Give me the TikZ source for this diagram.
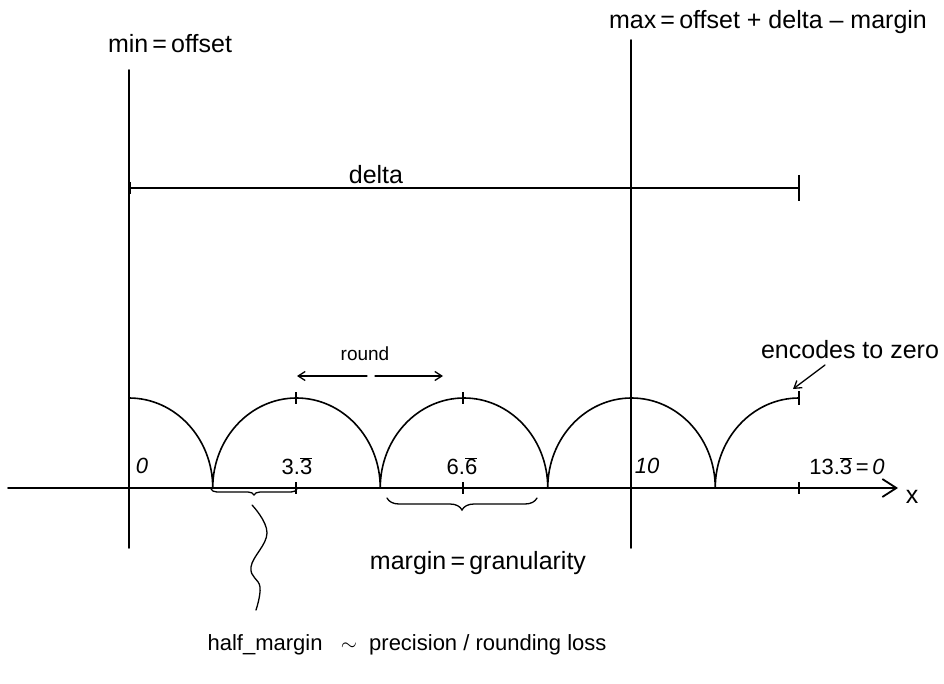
\documentclass[tikz,border=0pt]{standalone}
\usepackage{fontspec}
\setmainfont{Liberation Sans}
\usetikzlibrary{arrows.meta,decorations.pathreplacing}
\newcommand{\ovl}[1]{\ensuremath{\overline{\mbox{#1}}}}
\begin{document}
\begin{tikzpicture}[x=1pt,y=1pt,
  ln/.style={line width=1.6pt,black,line cap=round},
  thin/.style={line width=1.3pt,black,line cap=round},
  lbl/.style={font=\fontsize{19}{21}\selectfont,inner sep=0pt},
  big/.style={font=\fontsize{25}{27}\selectfont,inner sep=0pt},
  num/.style={font=\fontsize{22}{24}\selectfont,inner sep=0pt},
  tk/.style={line width=1.2pt}]
\useasboundingbox (0,0) rectangle (944,-684);
% coordinates
\coordinate (axL) at (8,-488);
\coordinate (axR) at (898,-488);
\coordinate (vLt) at (129,-70);
\coordinate (vLb) at (129,-548);
\coordinate (vRt) at (631,-40);
\coordinate (vRb) at (631,-548);
\coordinate (dL) at (129,-188);
\coordinate (dR) at (799,-188);
% axis
\draw[ln,-{Straight Barb[length=14pt,width=18pt,line width=1.8pt]}] (axL) -- (axR);
\node[big] (xlbl) at (912,-497) {x};
% verticals
\draw[ln] (vLt) -- (vLb);
\draw[ln] (vRt) -- (vRb);
% delta
\draw[ln] (dL) -- (dR);
\draw[tk] (799,-175) -- (799,-201);
\draw[line width=2.4pt] (130,-182) -- (130,-194);
\node[big] (delta) at (376,-175) {delta};
% arcs
\coordinate (a0) at (129,-398);
\draw[ln] (a0) arc[start angle=90,end angle=0,x radius=83.75,y radius=90]
  coordinate (a1)
  arc[start angle=180,end angle=0,x radius=83.75,y radius=90] coordinate (a2)
  arc[start angle=180,end angle=0,x radius=83.75,y radius=90] coordinate (a3)
  arc[start angle=180,end angle=0,x radius=83.75,y radius=90] coordinate (a4)
  arc[start angle=180,end angle=90,x radius=83.75,y radius=90] coordinate (a5);
% ticks on arcs
\foreach \xx in {296,463}{\draw[tk] (\xx,-392) -- (\xx,-404);}
\draw[tk] (799,-391) -- (799,-405);
% ticks on axis
\foreach \xx in {296,463,799}{\draw[tk] (\xx,-482) -- (\xx,-494);}
% numbers
\node[num] (n0) at (142,-466) {\itshape 0};
\node[num] (n1) at (297,-466) {3.\ovl{3}};
\node[num] (n2) at (462,-466) {6.\ovl{6}};
\node[num] (n3) at (647,-466) {\itshape 10};
\node[num] (n4) at (847,-466) {13.\ovl{3}\,=\,\textit{0}};
% round
\node[lbl] (round) at (365,-354) {round};
\coordinate (rL) at (297,-376);
\coordinate (rM1) at (367,-376);
\coordinate (rM2) at (375,-376);
\coordinate (rR) at (443,-376);
\draw[thin,-{Straight Barb[length=7pt,width=9pt]}] (rM1) -- (rL);
\draw[thin,-{Straight Barb[length=7pt,width=9pt]}] (rM2) -- (rR);
% encodes to zero
\node[big] (enc) at (850,-350) {encodes to zero};
\coordinate (eS) at (825,-365);
\coordinate (eE) at (793,-389);
\draw[thin,-{Straight Barb[length=7pt,width=9pt]}] (eS) -- (eE);
% braces
\draw[thin,decorate,decoration={brace,mirror,amplitude=6pt}] (211,-489) -- (297,-489);
\draw[thin,decorate,decoration={brace,mirror,amplitude=12pt}] (387,-498) -- (537,-498);
% squiggle
\draw[thin] plot[smooth,tension=0.7] coordinates {(252,-505) (267,-533) (251,-567) (260,-587) (256,-610)};
% labels
\node[big] (margin) at (478,-563) {margin\,=\,granularity};
\node[font=\fontsize{22}{24}\selectfont,inner sep=0pt] (half) at (407,-645) {half\_margin\ \ \ $\sim$\ \ precision / rounding loss};
\node[big] (minl) at (170,-44) {min\,=\,offset};
\node[big] (maxl) at (768,-22) {max\,=\,offset + delta -- margin};
\end{tikzpicture}
\end{document}
